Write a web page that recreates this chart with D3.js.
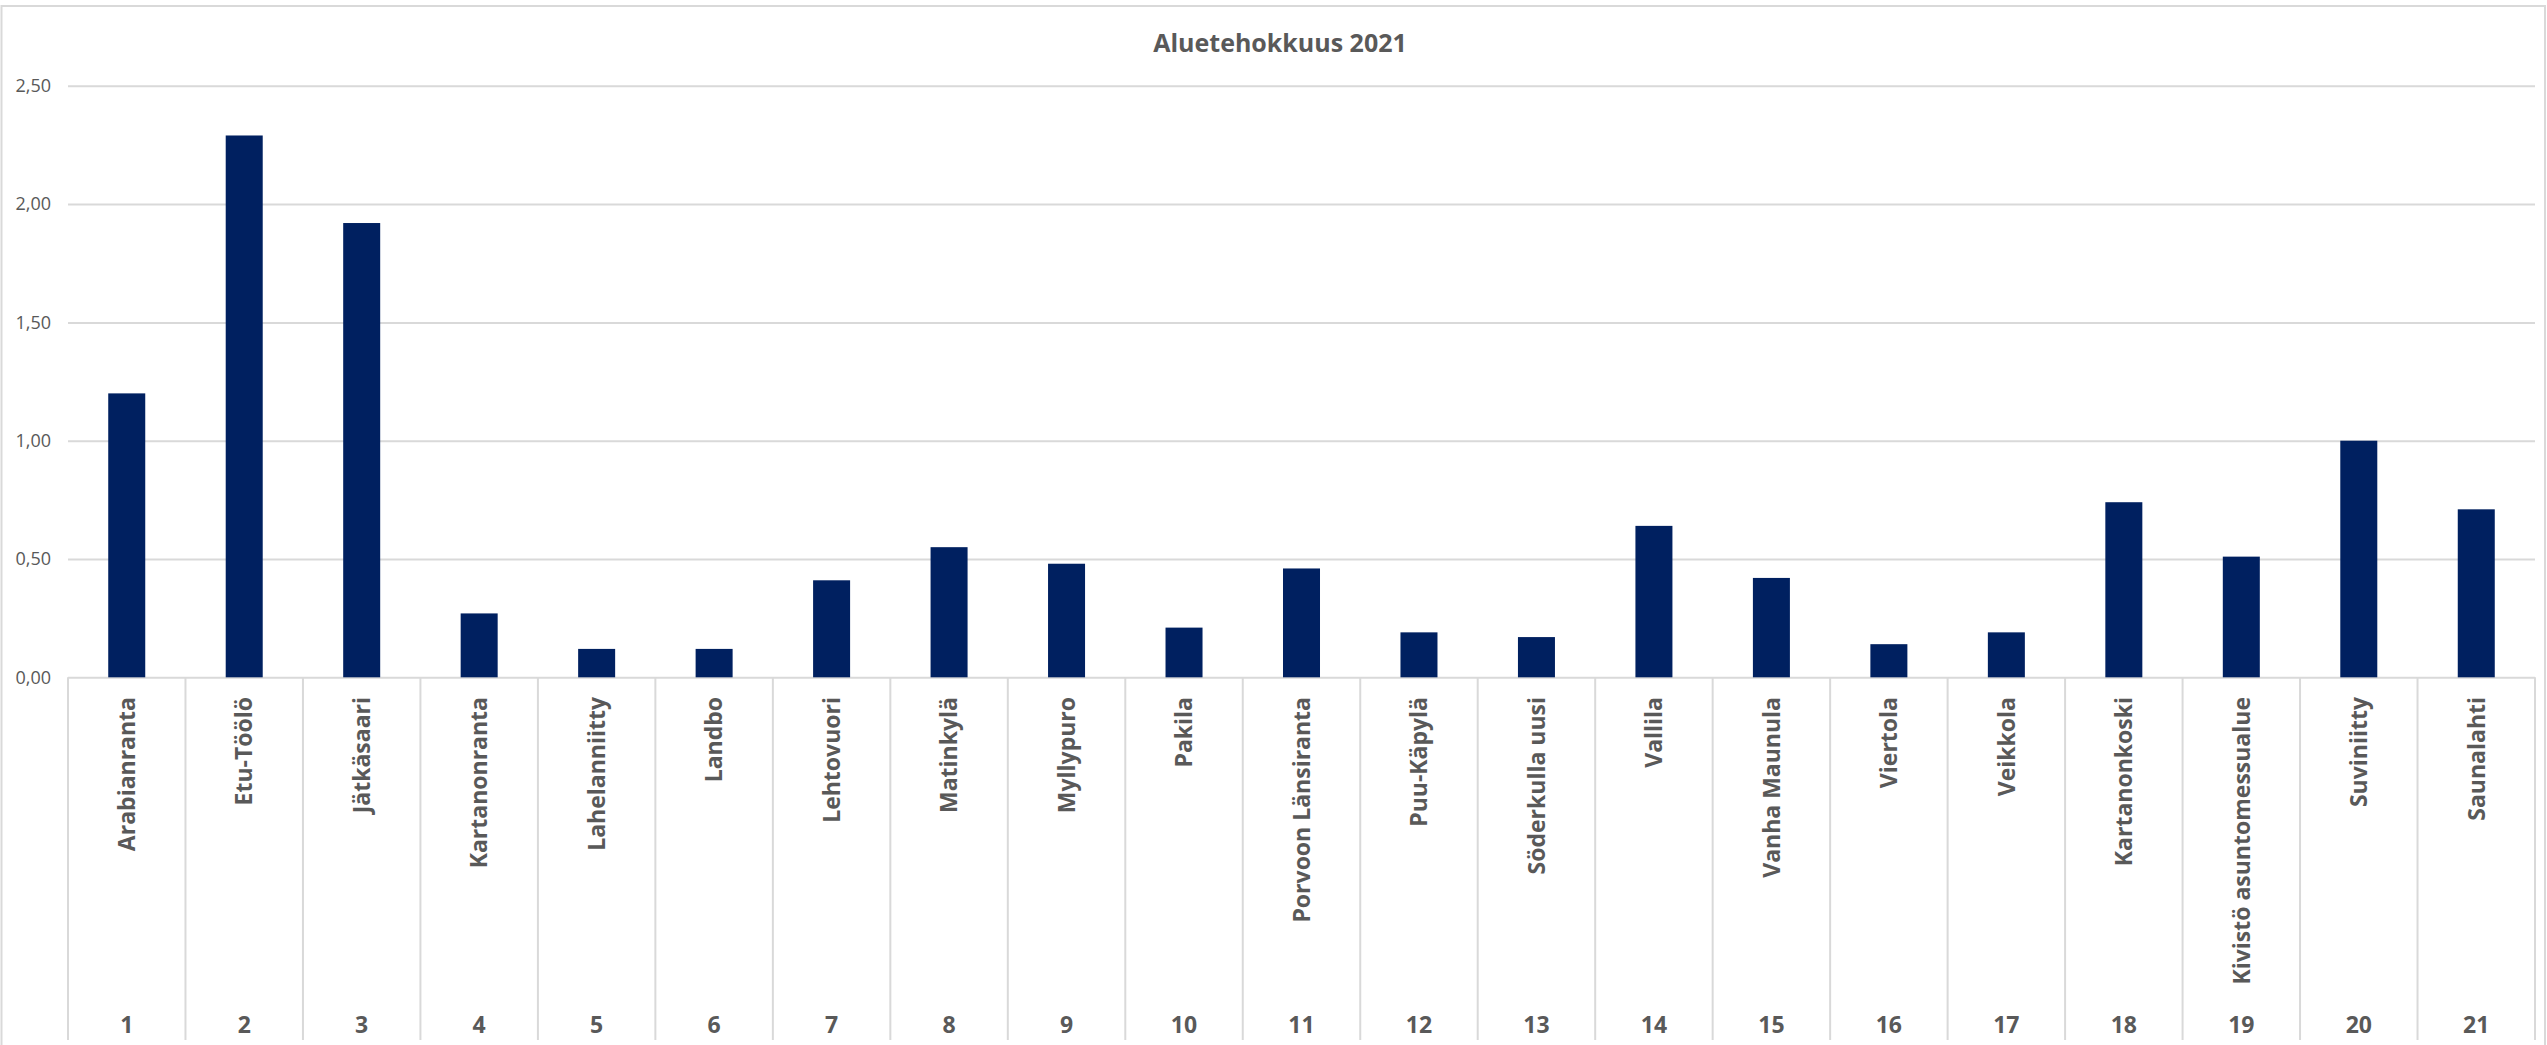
<!DOCTYPE html>
<html>
<head>
<meta charset="utf-8">
<script src="https://cdn.jsdelivr.net/npm/d3@7"></script>
<style>
  html, body { margin: 0; padding: 0; background: #ffffff; }
  svg { display: block; }
</style>
</head>
<body>
<svg id="chart" width="2547" height="1045"></svg>
<script>
// Aluetehokkuus (area efficiency) per residential area, 2021
const categories = [
  "Arabianranta", "Etu-Töölö", "Jätkäsaari", "Kartanonranta", "Lahelanniitty",
  "Landbo", "Lehtovuori", "Matinkylä", "Myllypuro", "Pakila",
  "Porvoon Länsiranta", "Puu-Käpylä", "Söderkulla uusi", "Vallila", "Vanha Maunula",
  "Viertola", "Veikkola", "Kartanonkoski", "Kivistö asuntomessualue", "Suviniitty",
  "Saunalahti"
];
const categoryNumbers = ["1","2","3","4","5","6","7","8","9","10","11","12","13","14","15","16","17","18","19","20","21"];
const values = [
  1.20, 2.29, 1.92, 0.27, 0.12,
  0.12, 0.41, 0.55, 0.48, 0.21,
  0.46, 0.19, 0.17, 0.64, 0.42,
  0.14, 0.19, 0.74, 0.51, 1.00,
  0.71
];
const yTicks = [0, 0.5, 1.0, 1.5, 2.0, 2.5];
const title = "Aluetehokkuus 2021";

const W = 2547, H = 1045;
const plot = { left: 68, right: 2535, top: 85.8, bottom: 677.3 };
const textColor = "#595959";
const gridColor = "#d9d9d9";
const barColor = "#002060";
const fontFamily = "'Open Sans', 'Liberation Sans', sans-serif";

const fi = d3.formatLocale({ decimal: ",", thousands: "\u00a0", grouping: [3], currency: ["", "\u00a0€"] });
const fmt = fi.format(".2f");

const svg = d3.select("#chart");

// chart area background and frame
svg.append("rect").attr("x", 0).attr("y", 0).attr("width", W).attr("height", H).attr("fill", "#ffffff");
svg.append("rect")
  .attr("x", 1.5).attr("y", 6).attr("width", W - 3.5).attr("height", H + 50)
  .attr("fill", "none").attr("stroke", gridColor).attr("stroke-width", 2);

const x = d3.scaleBand()
  .domain(categories)
  .range([plot.left, plot.right])
  .paddingInner(0.685)
  .paddingOuter(0.3425);

const xCell = d3.scaleBand()
  .domain(categories)
  .range([plot.left, plot.right])
  .padding(0);

const y = d3.scaleLinear()
  .domain([0, 2.5])
  .range([plot.bottom, plot.top]);

// title
svg.append("text")
  .attr("x", 1280).attr("y", 52)
  .attr("text-anchor", "middle")
  .attr("font-family", fontFamily)
  .attr("font-weight", 700)
  .attr("font-size", 25)
  .attr("fill", textColor)
  .text(title);

// horizontal gridlines and value labels
const yAxis = d3.axisLeft(y)
  .tickValues(yTicks)
  .tickFormat(fmt)
  .tickSize(-(plot.right - plot.left))
  .tickPadding(17);

const gy = svg.append("g")
  .attr("transform", `translate(${plot.left},0)`)
  .call(yAxis);
gy.select(".domain").remove();
gy.selectAll(".tick line").attr("stroke", gridColor).attr("stroke-width", 2);
gy.selectAll(".tick text")
  .attr("font-family", fontFamily)
  .attr("font-size", 18)
  .attr("fill", textColor);

// category cell dividers below the axis
const edges = categories.map(c => xCell(c)).concat([plot.right]);
svg.append("g").selectAll("line")
  .data(edges)
  .join("line")
  .attr("x1", d => d).attr("x2", d => d)
  .attr("y1", plot.bottom).attr("y2", 1040)
  .attr("stroke", gridColor).attr("stroke-width", 2);

// bars
svg.append("g").selectAll("rect")
  .data(categories)
  .join("rect")
  .attr("x", d => x(d))
  .attr("width", x.bandwidth())
  .attr("y", (d, i) => y(values[i]))
  .attr("height", (d, i) => y(0) - y(values[i]))
  .attr("fill", barColor);

// rotated category names
svg.append("g").selectAll("text")
  .data(categories)
  .join("text")
  .attr("transform", d => `translate(${xCell(d) + xCell.bandwidth() / 2},697) rotate(-90)`)
  .attr("dy", "0.36em")
  .attr("text-anchor", "end")
  .attr("font-family", fontFamily)
  .attr("font-weight", 700)
  .attr("font-size", 23)
  .attr("fill", textColor)
  .text(d => d);

// category numbers
svg.append("g").selectAll("text")
  .data(categories)
  .join("text")
  .attr("x", d => xCell(d) + xCell.bandwidth() / 2)
  .attr("y", 1033)
  .attr("text-anchor", "middle")
  .attr("font-family", fontFamily)
  .attr("font-weight", 700)
  .attr("font-size", 23)
  .attr("fill", textColor)
  .text((d, i) => categoryNumbers[i]);
</script>
</body>
</html>
